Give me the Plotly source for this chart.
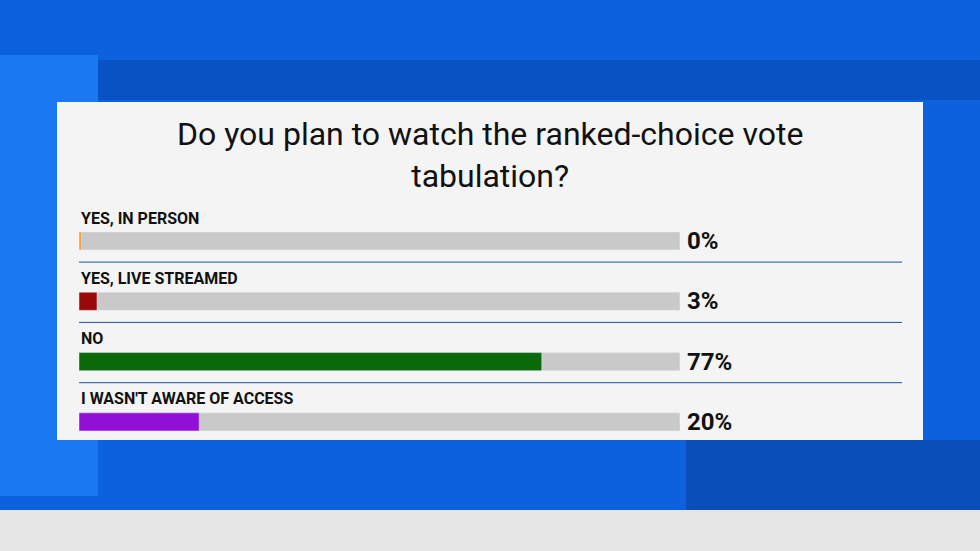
import plotly.graph_objects as go

categories = ["YES, IN PERSON", "YES, LIVE STREAMED", "NO", "I WASN'T AWARE OF ACCESS"]
values = [0.4, 3, 77, 20]
labels = ["0%", "3%", "77%", "20%"]
colors = ["#f0a040", "#9a0a0a", "#0a6a0a", "#9010d8"]
title = "Do you plan to watch the ranked-choice vote<br>tabulation?"

W, H = 980, 551
pos = list(range(len(categories)))
fig = go.Figure()
fig.add_trace(go.Bar(x=[100]*4, y=pos, orientation="h", marker_color="#c9c9c9",
                     width=0.3, showlegend=False, hoverinfo="skip"))
fig.add_trace(go.Bar(x=values, y=pos, orientation="h", marker_color=colors,
                     width=0.3, showlegend=False))

shapes = [
    dict(type="rect", xref="paper", yref="paper", x0=0, x1=1, y0=0, y1=1, fillcolor="#0b62dc", line_width=0, layer="below"),
    dict(type="rect", xref="paper", yref="paper", x0=0, x1=1, y0=1-100/H, y1=1-60/H, fillcolor="#0852c4", line_width=0, layer="below"),
    dict(type="rect", xref="paper", yref="paper", x0=0, x1=0.1, y0=0.1, y1=0.9, fillcolor="#1a78f0", line_width=0, layer="below"),
    dict(type="rect", xref="paper", yref="paper", x0=0.7, x1=1, y0=1-510/H, y1=1-440/H, fillcolor="#0a4fb8", line_width=0, layer="below"),
    dict(type="rect", xref="paper", yref="paper", x0=0, x1=1, y0=0, y1=1-510/H, fillcolor="#e6e6e6", line_width=0, layer="below"),
    dict(type="rect", xref="paper", yref="paper", x0=57/W, x1=923/W, y0=1-440/H, y1=1-102/H, fillcolor="#f4f4f4", line_width=0, layer="below"),
]
for i in range(3):
    shapes.append(dict(type="line", xref="paper", yref="y", x0=79/W, x1=902/W, y0=i+0.35, y1=i+0.35,
                       line=dict(color="#2050a0", width=1)))

ann = [dict(text=title, xref="paper", yref="paper", x=490/W, y=1-155/H, showarrow=False,
            font=dict(family="Roboto", size=32, color="#111"), xanchor="center", yanchor="middle")]
for i, (c, l) in enumerate(zip(categories, labels)):
    ann.append(dict(text="<b>%s</b>" % c, x=0, y=i-0.38, xref="x", yref="y", showarrow=False,
                    xanchor="left", yanchor="middle", font=dict(family="Roboto", size=16, color="#111")))
    ann.append(dict(text="<b>%s</b>" % l, x=685/W, y=i, xref="paper", yref="y", showarrow=False,
                    xanchor="left", yanchor="middle", font=dict(family="Roboto", size=24, color="#111")))

sp = 60.3
fig.update_layout(
    width=W, height=H, margin=dict(l=0, r=0, t=0, b=0), barmode="overlay",
    paper_bgcolor="#0b62dc", plot_bgcolor="rgba(0,0,0,0)",
    xaxis=dict(domain=[79/W, 680/W], range=[0, 100], visible=False, fixedrange=True),
    yaxis=dict(domain=[0, 1], range=[(H-241)/sp, -241/sp], visible=False, fixedrange=True),
    shapes=shapes, annotations=ann,
)
fig.write_html("out.html", config={"displayModeBar": False},
               post_script="document.body.style.margin='0';")
